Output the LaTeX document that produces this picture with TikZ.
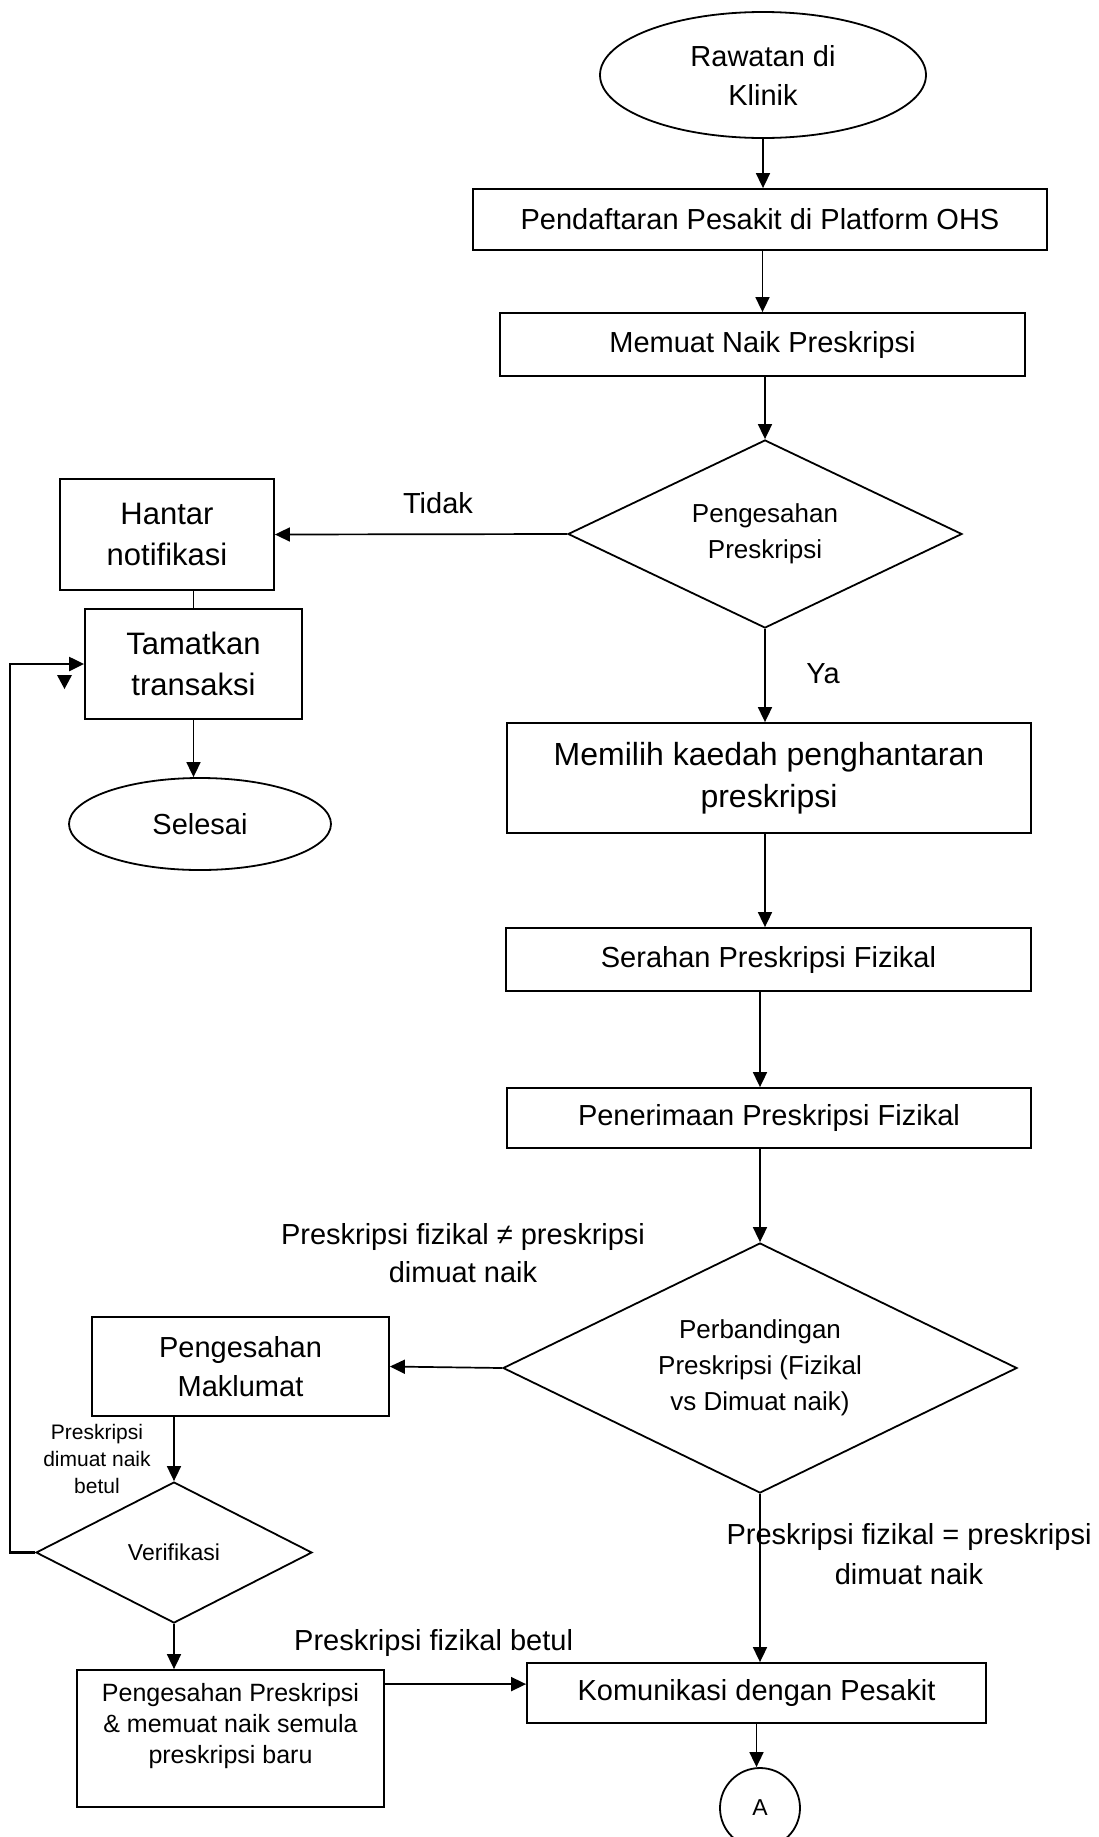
\documentclass[tikz,border=0pt]{standalone}
\usepackage{fontspec}
\setmainfont{Liberation Sans}
\usetikzlibrary{shapes.geometric,arrows.meta}
\newcommand\fmain{\fontsize{29}{39}\selectfont}
\newcommand\fbig{\fontsize{31}{41}\selectfont}
\newcommand\fhuge{\fontsize{32}{42}\selectfont}
\newcommand\fdia{\fontsize{26}{36}\selectfont}
\newcommand\fver{\fontsize{23}{28}\selectfont}
\newcommand\fmid{\fontsize{25}{31}\selectfont}
\newcommand\fsmall{\fontsize{21}{27}\selectfont}
\newcommand\fA{\fontsize{23}{28}\selectfont}
\newcommand\flabA{\fontsize{29}{38}\selectfont}
\newcommand\flabB{\fontsize{29}{40}\selectfont}
\begin{document}
\begin{tikzpicture}[x=1pt,y=-1pt,
  every node/.style={inner sep=0pt, align=center},
  box/.style={draw, line width=1.8pt, rectangle, font=\fmain},
  term/.style={draw, line width=1.8pt, ellipse, font=\fmain},
  dec/.style={draw, line width=1.8pt, diamond, shape aspect=2.1, font=\fdia},
  arr/.style={line width=1.7pt, -{Triangle[length=15pt,width=14pt]}},
  lbl/.style={font=\fmain}
]
\useasboundingbox (0,0) rectangle (1098,1837);
\fill[white] (0,0) rectangle (1098,1837);

% nodes
\node[term, minimum width=326pt, minimum height=126pt] (start) at (763,75) {Rawatan di\\Klinik};
\node[box, minimum width=574pt, minimum height=61pt] (reg) at (760,219.5) {Pendaftaran Pesakit di Platform OHS};
\node[box, minimum width=525pt, minimum height=63pt] (upl) at (762.5,344.5) {Memuat Naik Preskripsi};
\node[dec, minimum width=394pt, minimum height=188pt] (d1) at (765,534) {Pengesahan\\Preskripsi};
\node[box, font=\fbig, minimum width=214pt, minimum height=111pt] (hantar) at (167,534.5) {Hantar\\notifikasi};
\node[box, font=\fbig, minimum width=217pt, minimum height=110pt] (tamat) at (193.5,664) {Tamatkan\\transaksi};
\node[term, minimum width=262pt, minimum height=92pt] (selesai) at (200,824) {Selesai};
\node[box, font=\fhuge, minimum width=524pt, minimum height=110pt] (pilih) at (769,778) {Memilih kaedah penghantaran\\preskripsi};
\node[box, minimum width=525pt, minimum height=63pt] (serah) at (768.5,959.5) {Serahan Preskripsi Fizikal};
\node[box, minimum width=524pt, minimum height=60pt] (terima) at (769,1118) {Penerimaan Preskripsi Fizikal};
\node[dec, minimum width=514pt, minimum height=250pt] (d2) at (760,1368) {Perbandingan\\Preskripsi (Fizikal\\vs Dimuat naik)};
\node[box, minimum width=297pt, minimum height=99pt] (makl) at (240.5,1366.5) {Pengesahan\\Maklumat};
\node[dec, font=\fver, shape aspect=1.96, minimum width=276pt, minimum height=141pt] (d3) at (174,1552.5) {Verifikasi};
\node[box, font=\fmid, minimum width=307pt, minimum height=137pt] (pres) at (230.5,1738.5) {Pengesahan Preskripsi\\\& memuat naik semula\\preskripsi baru\\[0pt]\mbox{}};
\node[box, minimum width=459pt, minimum height=60pt] (kom) at (756.5,1693) {Komunikasi dengan Pesakit};
\node[draw, circle, line width=1.8pt, minimum size=80pt, font=\fA] (A) at (760,1808) {A};

% labels
\node[lbl, anchor=base] (tidak) at (438,513) {Tidak};
\node[lbl, anchor=base] (ya) at (823,683) {Ya};
\node[font=\flabA] (neq) at (463,1253.5) {Preskripsi fizikal ≠ preskripsi\\dimuat naik};
\node[font=\flabB] (eq) at (909,1554.5) {Preskripsi fizikal = preskripsi\\dimuat naik};
\node[lbl, anchor=base west] (betul) at (294,1650) {Preskripsi fizikal betul};
\node[font=\fsmall] (smalllbl) at (97,1459) {Preskripsi\\dimuat naik\\betul};

% connectors
\draw[arr] (start.south) -- (start.south |- reg.north);
\draw[arr] (upl.north |- reg.south) -- (upl.north);
\draw[arr] (d1.north |- upl.south) -- (d1.north);
\draw[arr] (d1.west) -- (hantar.east);
\draw[line width=1.2pt] (tamat.north |- hantar.south) -- (tamat.north);
\draw[arr] (tamat.south) -- (tamat.south |- selesai.north);
\draw[arr] (d1.south) -- (d1.south |- pilih.north);
\draw[arr] (d1.south |- pilih.south) -- (d1.south |- serah.north);
\draw[arr] (d2.north |- serah.south) -- (d2.north |- terima.north);
\draw[arr] (d2.north |- terima.south) -- (d2.north);
\draw[arr] (d2.west) -- (makl.east);
\draw[arr] (d2.south) -- (d2.south |- kom.north);
\draw[arr] (d3.north |- makl.south) -- (d3.north);
\draw[arr] (d3.south) -- (d3.south |- pres.north);
\draw[arr, line width=2.2pt] (d3.west) -- ++(-25,0) |- (tamat.west);
\coordinate (presout) at ([yshift=-15pt]pres.north east);
\draw[arr] (presout) -- (kom.west |- presout);
\draw[arr] (kom.south) -- (kom.south |- A.north);

% stray arrowhead
\fill (57,675) -- (72,675) -- (64.5,689) -- cycle;
\end{tikzpicture}
\end{document}
